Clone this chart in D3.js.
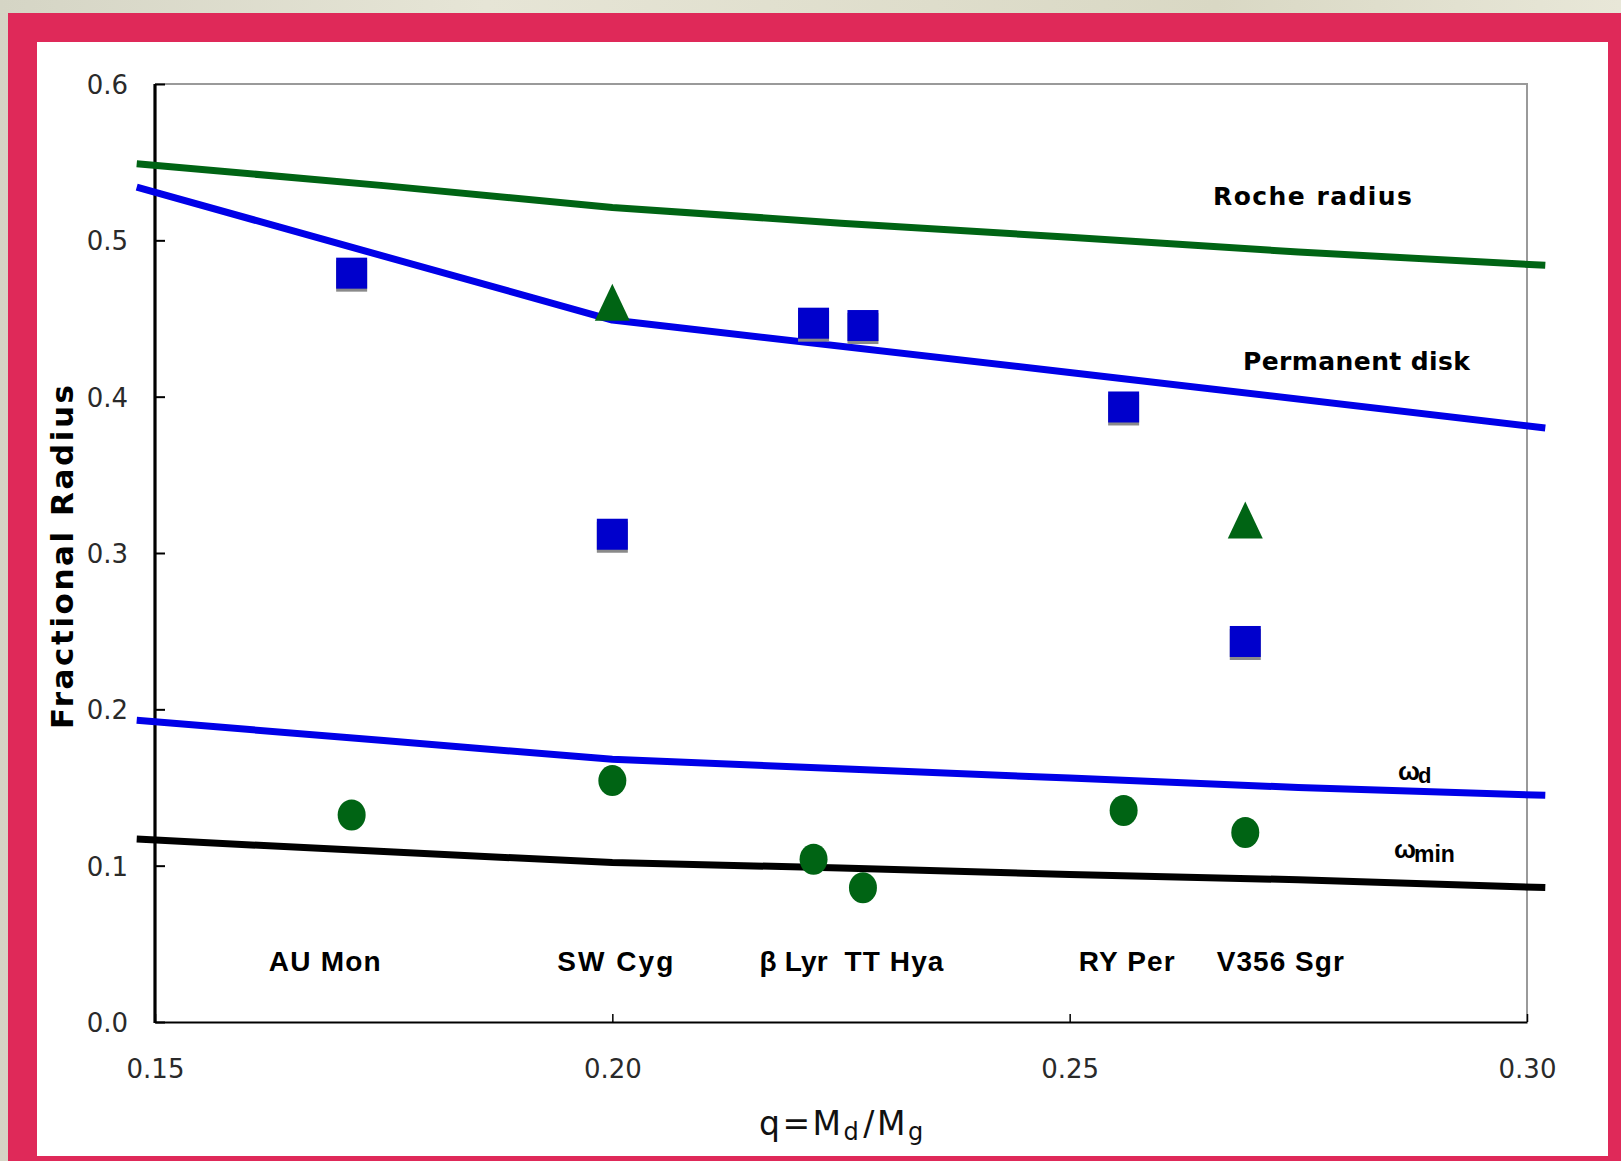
<!DOCTYPE html>
<html><head><meta charset="utf-8">
<script src="https://cdn.jsdelivr.net/npm/d3@7"></script>
<style>html,body{margin:0;padding:0;overflow:hidden;background:#e3e2d3}</style>
</head><body><svg id="c" width="1621" height="1161"></svg>
<script>
// ---------- data ----------
const stars      = ["AU Mon", "SW Cyg", "β Lyr", "TT Hya", "RY Per", "V356 Sgr"];
const starQ      = [0.1715, 0.200, 0.222, 0.2274, 0.2559, 0.2692];
const diskSquare = [0.479, 0.312, 0.447, 0.4455, 0.3934, 0.2434];
const triStars   = ["SW Cyg", "V356 Sgr"];
const triQ       = [0.200, 0.2692];
const triR       = [0.4604, 0.3211];
const omegaObs   = [0.1324, 0.1544, 0.1041, 0.0859, 0.1353, 0.1212];

const curveQ   = [0.148, 0.175, 0.200, 0.225, 0.250, 0.275, 0.302];
const rocheR   = [0.549, 0.535, 0.521, 0.511, 0.502, 0.4925, 0.484];
const omegaD   = [0.193, 0.180, 0.168, 0.162, 0.156, 0.150, 0.145];
const omegaMin = [0.117, 0.109, 0.102, 0.0985, 0.0943, 0.091, 0.086];
const permQ    = [0.148, 0.200, 0.250, 0.302];
const permR    = [0.534, 0.449, 0.4155, 0.380];

const xTicks = [0.15, 0.20, 0.25, 0.30];
const yTicks = [0.0, 0.1, 0.2, 0.3, 0.4, 0.5, 0.6];

// ---------- layout ----------
const svg = d3.select("#c");
const W = 1621, H = 1161;
const L = 155, R = 1527, T = 84, B = 1022;
const x = d3.scaleLinear().domain([0.15, 0.30]).range([L, R]);
const y = d3.scaleLinear().domain([0, 0.6]).range([B, T]);

// background frame
const defs = svg.append("defs");
const g1 = defs.append("linearGradient").attr("id","bg").attr("x1","0").attr("x2","1");
g1.append("stop").attr("offset","0").attr("stop-color","#d5d5c5");
g1.append("stop").attr("offset","0.3").attr("stop-color","#e6e5d6");
g1.append("stop").attr("offset","0.75").attr("stop-color","#d9d8c4");
g1.append("stop").attr("offset","1").attr("stop-color","#e8e7d8");
svg.append("rect").attr("width",W).attr("height",H).attr("fill","url(#bg)");
svg.append("rect").attr("x",8).attr("y",13).attr("width",W-8).attr("height",H-13).attr("fill","#df2959");
svg.append("rect").attr("x",37).attr("y",42).attr("width",1571).attr("height",1114).attr("fill","#ffffff");

// plot frame (grey top/right)
svg.append("path").attr("d",`M${L},${T}H${R}V${B}`).attr("fill","none")
  .attr("stroke","#9a9a9a").attr("stroke-width",2);

// axes
const tickFont = "'DejaVu Sans', sans-serif";
const yAxis = d3.axisLeft(y).tickValues(yTicks).tickFormat(d3.format(".1f"))
  .tickSizeInner(-10).tickSizeOuter(0).tickPadding(27);
const gy = svg.append("g").attr("transform",`translate(${L},0)`).call(yAxis);
gy.select(".domain").attr("stroke","#000").attr("stroke-width",3.2).attr("d",`M0,${T}V${B+1}`);
gy.selectAll(".tick line").attr("stroke","#000").attr("stroke-width",2);
gy.selectAll(".tick text").attr("font-family",tickFont).attr("font-size",26).attr("fill","#2a2a2a").attr("dy","0.36em");

const xAxis = d3.axisBottom(x).tickValues(xTicks).tickFormat(d3.format(".2f"))
  .tickSizeInner(-8).tickSizeOuter(0).tickPadding(38);
const gx = svg.append("g").attr("transform",`translate(0,${B})`).call(xAxis);
gx.select(".domain").attr("stroke","#000").attr("stroke-width",2);
gx.selectAll(".tick line").attr("stroke","#000").attr("stroke-width",1.5);
gx.selectAll(".tick text").attr("font-family",tickFont).attr("font-size",26).attr("fill","#2a2a2a").attr("dy","0.71em");

// curves
const line = d3.line().x(d => x(d[0])).y(d => y(d[1]));
function drawCurve(qs, rs, color){
  svg.append("path").datum(qs.map((q,i)=>[q, rs[i]]))
    .attr("d", line).attr("fill","none").attr("stroke",color)
    .attr("stroke-width",7).attr("stroke-linejoin","round");
}
drawCurve(curveQ, rocheR, "#006414");
drawCurve(permQ, permR, "#0000e8");
drawCurve(curveQ, omegaD, "#0000e8");
drawCurve(curveQ, omegaMin, "#000000");

// markers: squares
const sq = 31;
const sqG = svg.append("g");
stars.forEach((s,i)=>{
  sqG.append("rect").attr("x",x(starQ[i])-sq/2).attr("y",y(diskSquare[i])-sq/2+3)
    .attr("width",sq).attr("height",sq).attr("fill","#8a8a8a");
  sqG.append("rect").attr("x",x(starQ[i])-sq/2).attr("y",y(diskSquare[i])-sq/2)
    .attr("width",sq).attr("height",sq).attr("fill","#0000cc");
});
// triangles
const tw = 35, th = 37;
triQ.forEach((q,i)=>{
  svg.append("path").attr("transform",`translate(${x(q)},${y(triR[i])})`)
    .attr("d",`M0,${-th/2}L${tw/2},${th/2}L${-tw/2},${th/2}Z`).attr("fill","#006414");
});
// circles
omegaObs.forEach((v,i)=>{
  svg.append("ellipse").attr("cx",x(starQ[i])).attr("cy",y(v)).attr("rx",14).attr("ry",15.5).attr("fill","#006414");
});

// curve labels
const bold = "'Liberation Sans', Arial, sans-serif";
const wide = "'DejaVu Sans', sans-serif";
svg.append("text").attr("x",1213).attr("y",205).attr("font-family",wide).attr("font-weight","bold")
  .attr("font-size",25).attr("textLength",199).attr("lengthAdjust","spacing").text("Roche radius");
svg.append("text").attr("x",1243).attr("y",370).attr("font-family",wide).attr("font-weight","bold")
  .attr("font-size",25).attr("textLength",227).attr("lengthAdjust","spacing").text("Permanent disk");

const od = svg.append("text").attr("x",1398).attr("y",780).attr("font-family",bold).attr("font-weight","bold").attr("font-size",26);
od.append("tspan").text("ω");
od.append("tspan").attr("font-size",22).attr("dy",3).attr("dx",-2).text("d");
const om = svg.append("text").attr("x",1394).attr("y",858).attr("font-family",bold).attr("font-weight","bold").attr("font-size",26);
om.append("tspan").text("ω");
om.append("tspan").attr("font-size",23).attr("dy",4).attr("dx",-2).text("min");

// star name labels (offsets from star position, px)
const labelDx = [-27, 3, -20, 31, 3, 35];
const labelW  = [112, 116, 68, 99, 96, 127];
stars.forEach((s,i)=>{
  svg.append("text").attr("x",x(starQ[i])+labelDx[i]).attr("y",971).attr("text-anchor","middle")
    .attr("font-family",bold).attr("font-weight","bold").attr("font-size",28)
    .attr("textLength",labelW[i]).attr("lengthAdjust","spacing").text(s);
});

// axis titles
svg.append("text").attr("transform",`translate(73,557) rotate(-90)`).attr("text-anchor","middle")
  .attr("font-family",wide).attr("font-weight","bold").attr("font-size",31)
  .attr("textLength",344).attr("lengthAdjust","spacing").text("Fractional Radius");

const xt = svg.append("text").attr("x",759).attr("y",1135).attr("font-family",tickFont).attr("font-size",33)
  .attr("fill","#111").attr("letter-spacing",2.5);
xt.append("tspan").text("q=M");
xt.append("tspan").attr("font-size",24).attr("dy",5).text("d");
xt.append("tspan").attr("dy",-5).attr("dx",2).text("/M");
xt.append("tspan").attr("font-size",24).attr("dy",5).text("g");
</script></body></html>
